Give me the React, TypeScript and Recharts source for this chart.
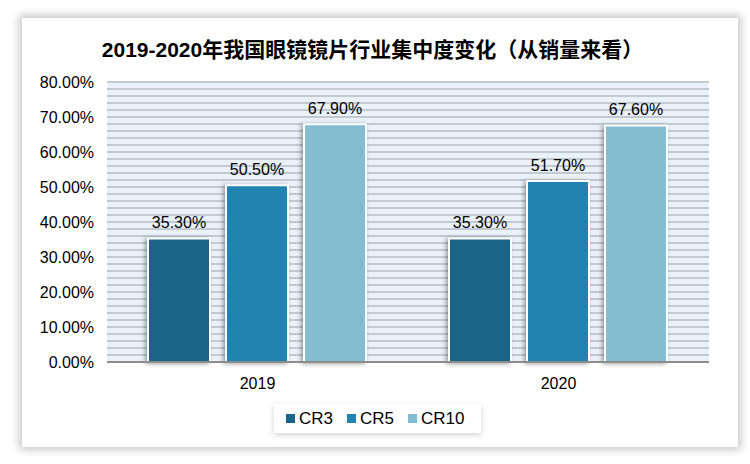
import React from "react";
import {
  BarChart,
  Bar,
  XAxis,
  YAxis,
  CartesianGrid,
  LabelList,
} from "recharts";

const years = ["2019", "2020"];
const cr3 = [35.3, 35.3];
const cr5 = [50.5, 51.7];
const cr10 = [67.9, 67.6];
const seriesNames = ["CR3", "CR5", "CR10"];
const seriesColors = ["#1A6487", "#2183B0", "#84BDD1"];
const yTicks = [0, 10, 20, 30, 40, 50, 60, 70, 80];
const minorTicks = [
  0, 2, 4, 6, 8, 10, 12, 14, 16, 18, 20, 22, 24, 26, 28, 30, 32, 34, 36, 38, 40,
  42, 44, 46, 48, 50, 52, 54, 56, 58, 60, 62, 64, 66, 68, 70, 72, 74, 76, 78, 80,
];
const yMax = 80;

const data = years.map((year, i) => ({
  year,
  CR3: cr3[i],
  CR5: cr5[i],
  CR10: cr10[i],
}));

const font = '"Liberation Sans", Arial, "Noto Sans CJK SC", sans-serif';
const pct = (v: any) => `${Number(v).toFixed(2)}%`;

// grid lines every 2%, placed with the y scale when available
const minorGrid = (p: any) => {
  const s = p?.yAxis?.scale;
  if (typeof s === "function") return minorTicks.map((t) => s(t));
  if (s && typeof s.map === "function") return minorTicks.map((t) => s.map(t));
  const { top, height } = p.offset;
  return minorTicks.map((t) => top + height * (1 - t / yMax));
};

export default function App() {
  return (
    <div
      style={{
        position: "absolute",
        left: 0,
        top: 0,
        width: 750,
        height: 464,
        background: "#fff",
        fontFamily: font,
      }}
    >
      <style>{`.recharts-bar-rectangle path { filter: drop-shadow(-2px 1px 2px rgba(0,0,0,0.35)); }`}</style>
      <div
        style={{
          position: "absolute",
          left: 22,
          top: 18,
          width: 716,
          height: 429,
          background: "#fff",
          boxShadow: "0 0 8px 3px rgba(0,0,0,0.22)",
        }}
      />
      <div
        style={{
          position: "absolute",
          left: 0,
          top: 33,
          width: 745,
          textAlign: "center",
          fontSize: 21,
          fontWeight: "bold",
          color: "#000",
          fontFamily: font,
        }}
      >
        2019-2020年我国眼镜镜片行业集中度变化（从销量来看）
      </div>
      <div style={{ position: "absolute", left: 0, top: 0 }}>
        <BarChart
          width={750}
          height={464}
          data={data}
          margin={{ top: 82, right: 41, bottom: 72, left: 0 }}
          barCategoryGap={41}
          barGap={16}
        >
          <CartesianGrid
            vertical={false}
            fill="#EAF1F8"
            stroke="#B4BCC4"
            strokeWidth={1.5}
            horizontalCoordinatesGenerator={minorGrid}
          />
          <XAxis
            dataKey="year"
            tickLine={false}
            axisLine={{ stroke: "#8C8C8C", strokeWidth: 2 }}
            tick={{ fill: "#000", fontSize: 16, fontFamily: font }}
            tickMargin={10}
          />
          <YAxis
            domain={[0, yMax]}
            ticks={yTicks}
            tickFormatter={pct}
            width={107}
            axisLine={false}
            tickLine={false}
            tickSize={0}
            tickMargin={13}
            tick={{ fill: "#000", fontSize: 16, fontFamily: font }}
          />
          {seriesNames.map((name, i) => (
            <Bar
              key={name}
              dataKey={name}
              fill={seriesColors[i]}
              stroke="#fff"
              strokeWidth={2}
              isAnimationActive={false}
            >
              <LabelList
                dataKey={name}
                position="top"
                offset={10}
                formatter={pct}
                fill="#000"
                fontSize={16}
                fontFamily={font}
              />
            </Bar>
          ))}
        </BarChart>
      </div>
      <div
        style={{
          position: "absolute",
          left: 274,
          top: 404,
          height: 29,
          display: "flex",
          alignItems: "center",
          gap: 14,
          background: "#fff",
          boxShadow: "0 2px 6px rgba(0,0,0,0.18)",
          padding: "0 16px 0 12px",
          fontSize: 17,
          color: "#000",
        }}
      >
        {seriesNames.map((name, i) => (
          <span key={name} style={{ display: "flex", alignItems: "center" }}>
            <span
              style={{
                width: 9,
                height: 9,
                background: seriesColors[i],
                marginRight: 4,
                display: "inline-block",
              }}
            />
            {name}
          </span>
        ))}
      </div>
    </div>
  );
}
